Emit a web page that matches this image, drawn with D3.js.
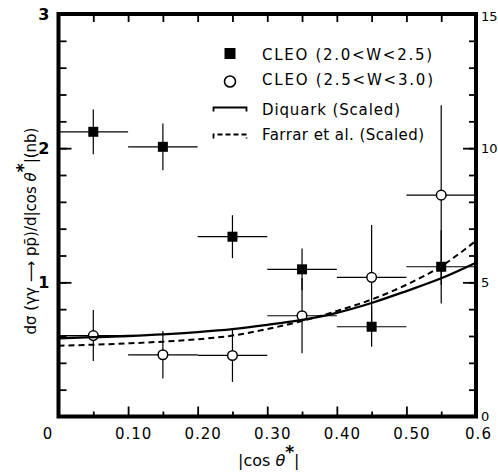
<!DOCTYPE html>
<html><head><meta charset="utf-8">
<script src="https://cdn.jsdelivr.net/npm/d3@7"></script>
<style>body{margin:0;background:#fff} svg{display:block;font-family:"DejaVu Sans",sans-serif}</style>
</head><body><svg id="c" width="498" height="472"></svg>
<script>
// ---------------- data ----------------
const binCenters = [0.05, 0.15, 0.25, 0.35, 0.45, 0.55];
const binHalfWidth = 0.05;
const cleoLowW = [2.122, 2.010, 1.340, 1.097, 0.669, 1.116];      // CLEO (2.0<W<2.5)
const cleoLowWErr = [0.167, 0.174, 0.160, 0.156, 0.150, 0.273];
const cleoHighW = [0.603, 0.460, 0.455, 0.751, 1.037, 1.650];     // CLEO (2.5<W<3.0)
const cleoHighWErr = [0.190, 0.177, 0.197, 0.280, 0.390, 0.670];
const curveX = [0, 0.05, 0.10, 0.15, 0.20, 0.25, 0.30, 0.35, 0.40, 0.45, 0.50, 0.55, 0.60];
const diquark = [0.583, 0.591, 0.600, 0.612, 0.629, 0.651, 0.683, 0.721, 0.773, 0.846, 0.935, 1.030, 1.146];
const farrar = [0.528, 0.535, 0.545, 0.558, 0.576, 0.603, 0.652, 0.712, 0.786, 0.872, 0.982, 1.120, 1.310];
const xTickValues = [0, 0.1, 0.2, 0.3, 0.4, 0.5, 0.6];
const xTickLabels = ["0", "0.10", "0.20", "0.30", "0.40", "0.50", "0.6"];
const yLeftTicks = [1, 2, 3];
const yLeftLabels = ["1", "2", "3"];
const yRightTicks = [0, 5, 10, 15];
const yRightLabels = ["0", "5", "10", "15"];
const legendLabels = ["CLEO (2.0<W<2.5)", "CLEO (2.5<W<3.0)", "Diquark (Scaled)", "Farrar et al. (Scaled)"];

// ---------------- layout ----------------
const svg = d3.select("#c");
const X0 = 58.5, X1 = 476, Y0 = 416.5, Y1 = 14;
const x = d3.scaleLinear().domain([0, 0.6]).range([X0, X1]);
const y = d3.scaleLinear().domain([0, 3]).range([Y0, Y1]);
const yR = d3.scaleLinear().domain([0, 15]).range([Y0, Y1]);

function styleAxis(g, sw) {
  g.select(".domain").remove();
  g.selectAll(".tick line").attr("stroke", "#000").attr("stroke-width", sw);
}
const minorX = d3.range(1, 12, 2).map(i => i * 0.05);
// bottom
svg.append("g").attr("transform", `translate(0,${Y0})`)
  .call(d3.axisBottom(x).tickValues(minorX).tickSize(-5).tickFormat(""))
  .call(g => styleAxis(g, 1.8));
svg.append("g").attr("transform", `translate(0,${Y0})`)
  .call(d3.axisBottom(x).tickValues(xTickValues).tickSize(-10).tickPadding(12)
    .tickFormat((d, i) => xTickLabels[i]))
  .call(g => styleAxis(g, 1.8))
  .call(g => g.selectAll("text").attr("font-size", 15).attr("fill", "#000")
    .attr("font-family", "DejaVu Sans").attr("letter-spacing", 1)
    .attr("dx", (d, i) => i === 0 ? -11 : (i === 6 ? 2 : 5)));
// top
svg.append("g").attr("transform", `translate(0,${Y1})`)
  .call(d3.axisTop(x).tickValues(d3.range(1, 12).map(i => i * 0.05)).tickSize(-8).tickFormat(""))
  .call(g => styleAxis(g, 1.8));
// left
svg.append("g").attr("transform", `translate(${X0},0)`)
  .call(d3.axisLeft(y).tickValues(d3.range(1, 15).map(i => i * 0.2)).tickSize(-8).tickFormat(""))
  .call(g => styleAxis(g, 1.8));
svg.append("g").attr("transform", `translate(${X0},0)`)
  .call(d3.axisLeft(y).tickValues(yLeftTicks).tickSize(-13).tickPadding(9)
    .tickFormat((d, i) => yLeftLabels[i]))
  .call(g => styleAxis(g, 1.8))
  .call(g => g.selectAll("text").attr("font-size", 16).attr("font-weight", "bold")
    .attr("fill", "#000").attr("font-family", "DejaVu Sans"));
// right
svg.append("g").attr("transform", `translate(${X1},0)`)
  .call(d3.axisRight(yR).tickValues(d3.range(1, 15)).tickSize(-7).tickFormat(""))
  .call(g => styleAxis(g, 1.8));
svg.append("g").attr("transform", `translate(${X1},0)`)
  .call(d3.axisRight(yR).tickValues(yRightTicks).tickSize(-13).tickPadding(5)
    .tickFormat((d, i) => yRightLabels[i]))
  .call(g => styleAxis(g, 1.8))
  .call(g => g.selectAll("text").attr("font-size", 13)
    .attr("fill", "#000").attr("font-family", "DejaVu Sans")
    .attr("dy", (d) => d === 15 ? "0.5em" : "0.32em"));

// frame
svg.append("rect").attr("x", X0).attr("y", Y1).attr("width", X1 - X0).attr("height", Y0 - Y1)
  .attr("fill", "none").attr("stroke", "#000").attr("stroke-width", 4);

// ---------------- error bars ----------------
function errorBars(vals, errs) {
  const g = svg.append("g").attr("stroke", "#000").attr("stroke-width", 1.2);
  binCenters.forEach((c, i) => {
    g.append("line").attr("x1", x(c - binHalfWidth)).attr("x2", x(c + binHalfWidth))
      .attr("y1", y(vals[i])).attr("y2", y(vals[i]));
    g.append("line").attr("x1", x(c)).attr("x2", x(c))
      .attr("y1", y(vals[i] - errs[i])).attr("y2", y(vals[i] + errs[i]));
  });
}
errorBars(cleoHighW, cleoHighWErr);
errorBars(cleoLowW, cleoLowWErr);

// markers
svg.append("g").selectAll("circle").data(binCenters).join("circle")
  .attr("cx", d => x(d)).attr("cy", (d, i) => y(cleoHighW[i])).attr("r", 4.8)
  .attr("fill", "#fff").attr("stroke", "#000").attr("stroke-width", 1.5);
svg.append("g").selectAll("rect").data(binCenters).join("rect")
  .attr("x", d => x(d) - 5).attr("y", (d, i) => y(cleoLowW[i]) - 5)
  .attr("width", 10).attr("height", 10).attr("fill", "#000");

// curves
const line = d3.line().x((d, i) => x(curveX[i])).y(d => y(d)).curve(d3.curveMonotoneX);
svg.append("path").datum(diquark).attr("d", line).attr("fill", "none")
  .attr("stroke", "#000").attr("stroke-width", 2.3);
svg.append("path").datum(farrar).attr("d", line).attr("fill", "none")
  .attr("stroke", "#000").attr("stroke-width", 2).attr("stroke-dasharray", "6,4");

// ---------------- legend ----------------
const lg = svg.append("g");
lg.append("rect").attr("x", 224.5).attr("y", 48).attr("width", 11).attr("height", 11).attr("fill", "#000");
lg.append("circle").attr("cx", 230).attr("cy", 81.5).attr("r", 5.5)
  .attr("fill", "#fff").attr("stroke", "#000").attr("stroke-width", 1.6);
lg.append("path").attr("d", "M213.5,111.5V107.5H246.5V111.5").attr("fill", "none")
  .attr("stroke", "#000").attr("stroke-width", 1.8);
lg.append("path").attr("d", "M213.5,138.5V134.5H246.5V138.5").attr("fill", "none")
  .attr("stroke", "#000").attr("stroke-width", 1.8).attr("stroke-dasharray", "5,3");
const legY = [60, 85, 115, 139.5];
const legW = [170, 171, 138, 162];
legendLabels.forEach((t, i) => {
  lg.append("text").attr("x", 262).attr("y", legY[i]).attr("font-size", 15)
    .attr("textLength", legW[i]).attr("lengthAdjust", "spacing").attr("fill", "#000").text(t);
});

// ---------------- axis titles ----------------
const xt = svg.append("text").attr("x", 238).attr("y", 466).attr("font-size", 16).attr("fill", "#000");
xt.append("tspan").text("|cos ");
xt.append("tspan").attr("font-style", "italic").text("θ");
xt.append("tspan").attr("dy", -8).attr("font-size", 17).attr("font-weight", "bold").text("*");
xt.append("tspan").attr("dy", 8).text("|");

const yt = svg.append("text").attr("transform", "translate(36,231) rotate(-90)")
  .attr("text-anchor", "middle").attr("font-size", 15).attr("fill", "#000");
yt.append("tspan").text("dσ (γγ ");
yt.append("tspan").text("⟶");
yt.append("tspan").text(" pp̄)/d|cos ");
yt.append("tspan").attr("font-style", "italic").text("θ");
yt.append("tspan").attr("dy", -7).attr("font-size", 17).attr("font-weight", "bold").text("*");
yt.append("tspan").attr("dy", 7).text("|(nb)");
</script></body></html>
